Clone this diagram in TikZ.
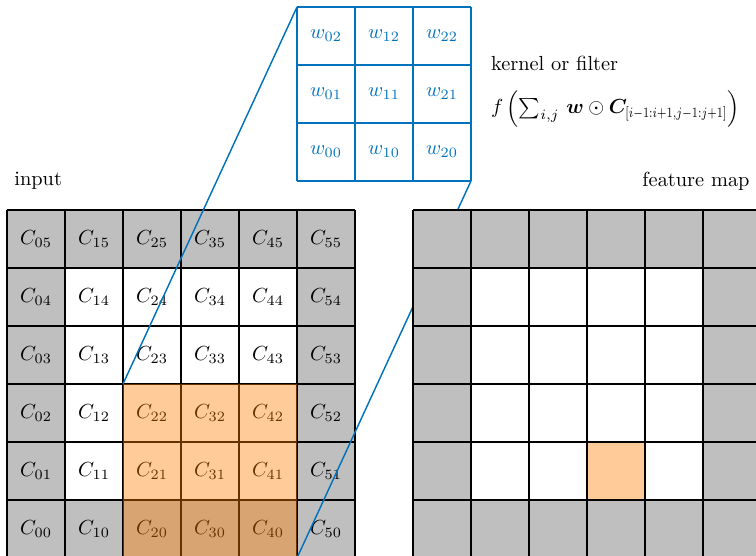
\documentclass[tikz,border=0pt]{standalone}
\usepackage{amsmath,bm,graphicx}
\definecolor{kblue}{RGB}{0,114,189}
\definecolor{padgray}{RGB}{191,191,191}
\newcommand{\slicesub}[1]{\scalebox{0.76}[1]{$\scriptstyle #1$}}
\begin{document}
\begin{tikzpicture}[
  gridline/.style={line width=0.8pt},
  kernelline/.style={draw=kblue, line width=0.8pt},
  link/.style={draw=kblue, line width=0.7pt},
  celltext/.style={inner sep=0pt},
  caption/.style={inner sep=0pt, font=\normalsize}
]
\useasboundingbox (-0.121,0.034) rectangle (12.914,9.62);

% input grid with padding
\fill[padgray] (0,0) rectangle (6,6);
\fill[white] (1,1) rectangle (5,5);
\draw[gridline] (0,0) grid (6,6);
\foreach \i in {0,...,5}
  \foreach \j in {0,...,5}
    \node[celltext] (c\i\j) at (\i+0.5,\j+0.5) {$C_{\i\j}$};
% receptive field overlay
\fill[orange, opacity=0.4] (2,0) rectangle (5,3);

% kernel
\fill[white] (5,6.5) rectangle (8,9.5);
\draw[kernelline, shift={(5,6.5)}] (0,0) grid (3,3);
\foreach \i in {0,1,2}
  \foreach \j in {0,1,2}
    \node[celltext, text=kblue] (w\i\j) at (5.5+\i,7+\j) {$w_{\i\j}$};

% projection lines
\coordinate (kTL) at (5,9.5);
\coordinate (kBR) at (8,6.5);
\coordinate (inTL) at (2,3);
\coordinate (inBR) at (5,0);
\draw[link] (kTL) -- (inTL);
\draw[link] (kBR) -- (inBR);

% feature map
\fill[padgray] (7,0) rectangle (13,6);
\fill[white] (8,1) rectangle (12,5);
\fill[orange!40] (10,1) rectangle (11,2);
\draw[gridline] (7,0) grid (13,6);

% captions
\node[caption, anchor=west] (inlabel) at (0.12,6.5) {input};
\node[caption, anchor=east] (fmlabel) at (12.81,6.5) {feature map};
\node[caption, anchor=base west] (klabel) at (8.34,8.4) {kernel or filter};
\node[caption, anchor=base west] (formula) at (8.34,7.66)
  {$f\left(\sum_{i,j}\,\bm{w}\odot\bm{C}_{\slicesub{[i-1:i+1,j-1:j+1]}}\right)$};
\end{tikzpicture}
\end{document}
